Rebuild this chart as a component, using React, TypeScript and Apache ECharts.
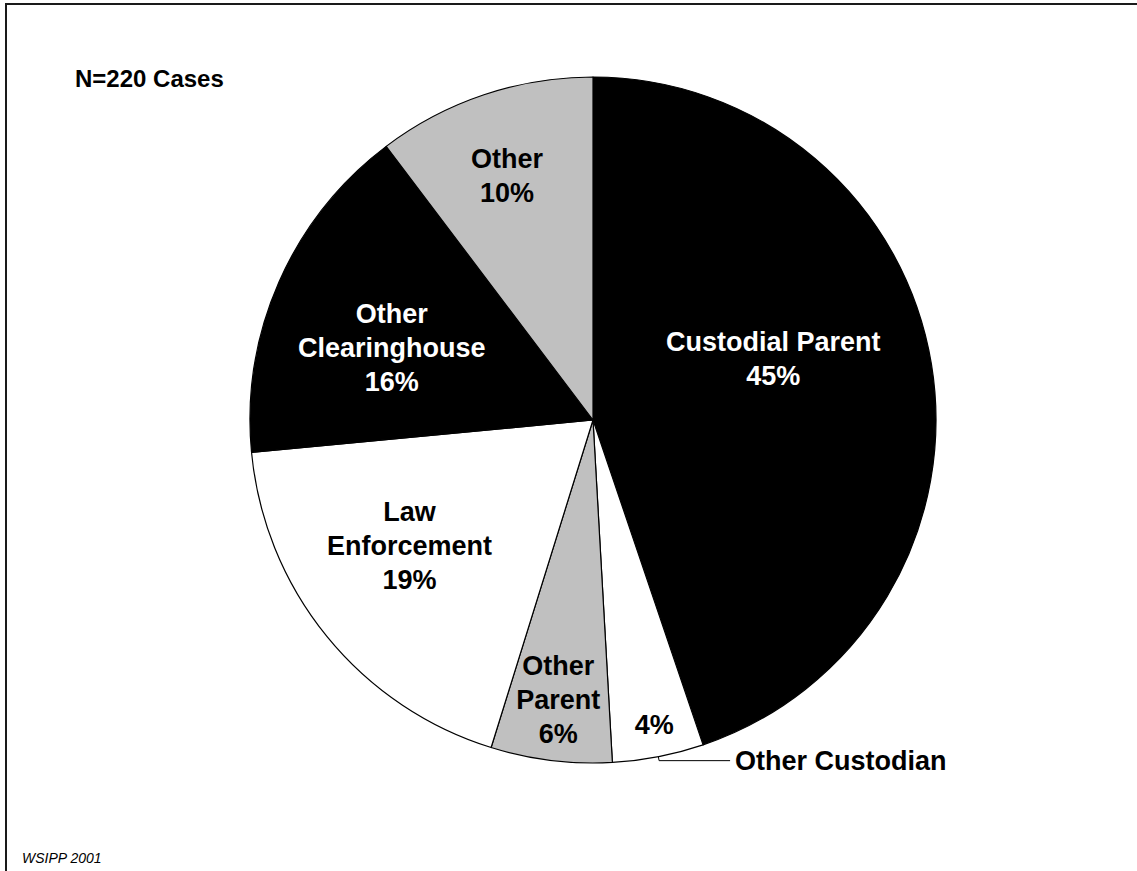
import React, { useEffect, useRef } from "react";
import * as echarts from "echarts";

// ---- data ----
const categories = [
  "Custodial Parent",
  "Other Custodian",
  "Other Parent",
  "Law Enforcement",
  "Other Clearinghouse",
  "Other",
];
const shares = [44.8, 4.3, 5.7, 18.7, 16.2, 10.3];
const insideNames = [
  "Custodial Parent",
  "",
  "Other\nParent",
  "Law\nEnforcement",
  "Other\nClearinghouse",
  "Other",
];
const outsideNames = ["", "Other Custodian", "", "", "", ""];
const caseNote = "N=220 Cases";
const sourceNote = "WSIPP 2001";

// ---- styles ----
const sliceColors = ["#000000", "#ffffff", "#c0c0c0", "#ffffff", "#000000", "#c0c0c0"];
const labelColors = ["#ffffff", "#000000", "#000000", "#000000", "#ffffff", "#000000"];
const labelShift: [number, number][] = [
  [8, -33],
  [28, 134],
  [-13.5, 107],
  [-48, 16],
  [-41.5, -2],
  [-30.5, -79],
];
const FONT = "'Liberation Sans', Arial, Helvetica, sans-serif";

export default function App() {
  const ref = useRef<HTMLDivElement>(null);
  useEffect(() => {
    if (!ref.current) return;
    const chart = echarts.init(ref.current, null, { renderer: "svg" });

    const mainData = categories.map((name, i) => ({
      name,
      value: shares[i],
      itemStyle: { color: sliceColors[i] },
      label: { color: labelColors[i] },
    }));
    const overlayData = categories.map((name, i) => ({
      name,
      value: shares[i],
      label: { show: outsideNames[i] !== "" },
      labelLine: { show: outsideNames[i] !== "" },
    }));

    chart.setOption({
      animation: false,
      backgroundColor: "#ffffff",
      graphic: [
        {
          type: "rect",
          shape: { x: 6, y: 4, width: 1200, height: 1000 },
          style: { fill: "none", stroke: "#1a1a1a", lineWidth: 2 },
          silent: true,
        },
        {
          type: "text",
          x: 75,
          y: 78.5,
          style: {
            text: caseNote,
            font: `bold 24px ${FONT}`,
            fill: "#000",
            textAlign: "left",
            textVerticalAlign: "middle",
          },
        },
        {
          type: "text",
          x: 22,
          y: 858,
          style: {
            text: sourceNote,
            font: `italic 14px ${FONT}`,
            fill: "#000",
            textAlign: "left",
            textVerticalAlign: "middle",
          },
        },
      ],
      series: [
        {
          type: "pie",
          center: [593, 420],
          radius: 343,
          startAngle: 90,
          clockwise: true,
          avoidLabelOverlap: false,
          itemStyle: { borderColor: "#000", borderWidth: 1.2 },
          emphasis: { disabled: true },
          label: {
            show: true,
            position: "inside",
            fontFamily: FONT,
            fontWeight: "bold",
            fontSize: 27,
            lineHeight: 34,
            align: "center",
            formatter: (p: any) => {
              const n = insideNames[p.dataIndex];
              const pct = Math.round(p.value) + "%";
              return n ? n + "\n" + pct : pct;
            },
          },
          labelLine: { show: false },
          labelLayout: (p: any) => ({
            dx: labelShift[p.dataIndex][0],
            dy: labelShift[p.dataIndex][1],
          }),
          data: mainData,
        },
        {
          type: "pie",
          center: [593, 420],
          radius: 343,
          startAngle: 90,
          clockwise: true,
          silent: true,
          avoidLabelOverlap: false,
          itemStyle: { color: "rgba(0,0,0,0)", borderWidth: 0 },
          emphasis: { disabled: true },
          label: {
            position: "outside",
            fontFamily: FONT,
            fontWeight: "bold",
            fontSize: 27,
            color: "#000",
            distanceToLabelLine: 5,
            formatter: (p: any) => outsideNames[p.dataIndex],
          },
          labelLine: {
            length: 4,
            length2: 71,
            lineStyle: { color: "#000", width: 1 },
          },
          data: overlayData,
        },
      ],
    });
    return () => chart.dispose();
  }, []);

  return (
    <div
      ref={ref}
      style={{ position: "absolute", left: 0, top: 0, width: 1137, height: 871 }}
    />
  );
}
